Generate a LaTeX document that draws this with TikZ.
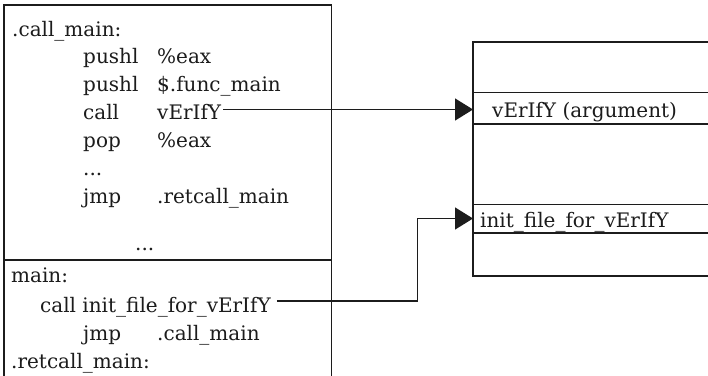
\documentclass[tikz,border=0pt]{standalone}
\usepackage{fontspec}
\setmainfont{DejaVu Serif}
\usetikzlibrary{arrows.meta,calc}

\tikzset{
  txt/.style={anchor=base west, inner sep=0pt, font=\fontsize{20}{24}\selectfont, text=ink},
  frame/.style={draw=ink, line width=1.3pt},
  link/.style={draw=ink, line width=1.3pt, -{Triangle[length=18pt,width=22pt]}},
}
\definecolor{ink}{RGB}{28,28,28}

\begin{document}
\begin{tikzpicture}[x=1pt, y=-1pt]
\useasboundingbox (0,0) rectangle (708,375);
\clip (0,0) rectangle (708,375);
\fill[white] (0,0) rectangle (708,375);

% code listing frame, open at the bottom
\draw[frame] (4,380) -- (4,5) -- (331.5,5) -- (331.5,380);
\draw[frame] (4,260) -- (331.5,260);

% upper section: .call_main
\node[txt] (lcall) at (12,36) {.call\_main:};
\node[txt] (m1) at (83,63) {pushl};
\node[txt] (o1) at (157,63) {\%eax};
\node[txt] (m2) at (83,91) {pushl};
\node[txt] (o2) at (157,91) {\$.func\_main};
\node[txt] (m3) at (83,119) {call};
\node[txt] (verify) at (157,119) {vErIfY};
\node[txt] (m4) at (83,147) {pop};
\node[txt] (o4) at (157,147) {\%eax};
\node[txt] (dots1) at (83,175) {...};
\node[txt] (m6) at (83,203) {jmp};
\node[txt] (o6) at (157,203) {.retcall\_main};
\node[txt] (dots2) at (135,250) {...};

% lower section: main
\node[txt] (lmain) at (11,282) {main:};
\node[txt] (initcall) at (40,312) {call init\_file\_for\_vErIfY};
\node[txt] (m8) at (83,340) {jmp};
\node[txt] (o8) at (157,340) {.call\_main};
\node[txt] (lret) at (11,368) {.retcall\_main:};

% memory panel on the right
\draw[frame] (720,42) -- (473,42) -- (473,276) -- (720,276);
\draw[frame] (473,92.5) -- (720,92.5);
\draw[frame] (473,124) -- (720,124);
\draw[frame] (473,204.5) -- (720,204.5);
\draw[frame] (473,233) -- (720,233);
\coordinate (argrow) at (473,109.5);
\coordinate (initrow) at (473,218.5);
\node[txt] (argtxt) at (492,117) {vErIfY (argument)};
\node[txt] (inittxt) at (480,227) {init\_file\_for\_vErIfY};

% connectors
\draw[link] ($(verify.base east)+(2,-9.5)$) -- (argrow);
\coordinate (bend) at (417.5,0);
\draw[link] ($(initcall.base east)+(6,-11)$) coordinate (istart)
  -- (bend |- istart) -- (bend |- initrow) -- (initrow);
\end{tikzpicture}
\end{document}
